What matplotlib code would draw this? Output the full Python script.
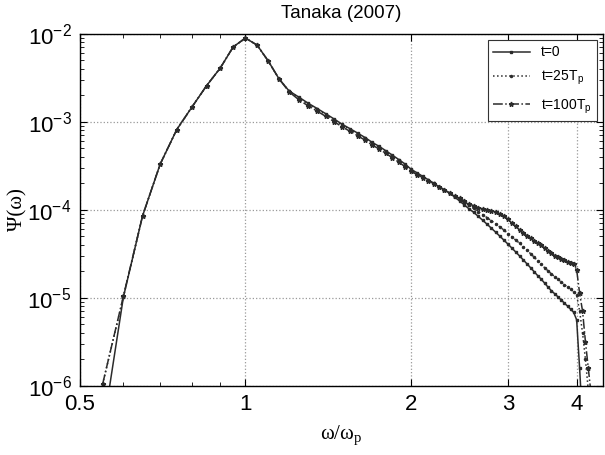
import numpy as np
import matplotlib
matplotlib.use('Agg')
import matplotlib.pyplot as plt
from matplotlib.ticker import FixedLocator, NullFormatter, FuncFormatter, LogLocator

plt.rcParams['font.family'] = ['Liberation Sans', 'DejaVu Sans']
plt.rcParams['mathtext.fontset'] = 'custom'
plt.rcParams['mathtext.rm'] = 'Liberation Sans'
plt.rcParams['axes.unicode_minus'] = False

# frequency grid (omega / omega_p)
omega = [0.55, 0.60, 0.65, 0.70, 0.75, 0.80, 0.85, 0.90, 0.95, 1.00,
         1.05, 1.10, 1.15, 1.20, 1.25, 1.30, 1.35, 1.40, 1.45, 1.50,
         1.55, 1.60, 1.65, 1.70, 1.75, 1.80, 1.85, 1.90, 1.95, 2.00,
         2.05, 2.10, 2.15, 2.20, 2.25, 2.30, 2.35, 2.40, 2.45, 2.50,
         2.55, 2.60, 2.65, 2.70, 2.75, 2.80, 2.85, 2.90, 2.95, 3.00,
         3.05, 3.10, 3.15, 3.20, 3.25, 3.30, 3.35, 3.40, 3.45, 3.50,
         3.55, 3.60, 3.65, 3.70, 3.75, 3.80, 3.85, 3.90, 3.95, 4.00,
         4.05, 4.10, 4.15, 4.20, 4.25]

# log10 of Psi(omega)
log_psi_t0 = [-6.52, -4.99, -4.07, -3.48, -3.09, -2.83, -2.59, -2.39, -2.15, -2.05,
              -2.13, -2.31, -2.51, -2.65, -2.72, -2.79, -2.85, -2.91, -2.97, -3.03,
              -3.08, -3.13, -3.18, -3.235, -3.28, -3.33, -3.38, -3.43, -3.48, -3.54,
              -3.58, -3.62, -3.66, -3.70, -3.74, -3.775, -3.81, -3.855, -3.90, -3.945,
              -3.99, -4.03, -4.075, -4.12, -4.165, -4.21, -4.255, -4.30, -4.345, -4.39,
              -4.435, -4.48, -4.525, -4.57, -4.615, -4.66, -4.705, -4.75, -4.79, -4.835,
              -4.88, -4.92, -4.955, -4.99, -5.025, -5.06, -5.095, -5.13, -5.165, -5.25,
              -5.8, -6.4]

log_psi_t25 = [-5.98, -4.99, -4.07, -3.48, -3.09, -2.83, -2.59, -2.39, -2.15, -2.05,
               -2.13, -2.31, -2.51, -2.65, -2.73, -2.80, -2.86, -2.92, -2.98, -3.04,
               -3.09, -3.14, -3.19, -3.245, -3.29, -3.34, -3.39, -3.44, -3.49, -3.55,
               -3.59, -3.625, -3.665, -3.70, -3.74, -3.775, -3.81, -3.845, -3.88, -3.915,
               -3.95, -3.985, -4.02, -4.055, -4.09, -4.125, -4.16, -4.195, -4.23, -4.27,
               -4.305, -4.345, -4.38, -4.42, -4.46, -4.50, -4.54, -4.58, -4.62, -4.66,
               -4.695, -4.73, -4.76, -4.79, -4.82, -4.85, -4.88, -4.905, -4.93, -4.97,
               -5.15, -5.4, -5.7, -6.05]

log_psi_t100 = [-5.98, -4.98, -4.07, -3.48, -3.09, -2.83, -2.59, -2.39, -2.15, -2.05,
                -2.13, -2.31, -2.51, -2.66, -2.75, -2.82, -2.88, -2.94, -3.00, -3.06,
                -3.11, -3.16, -3.21, -3.265, -3.31, -3.36, -3.41, -3.46, -3.51, -3.565,
                -3.60, -3.635, -3.67, -3.705, -3.74, -3.775, -3.81, -3.84, -3.87, -3.90,
                -3.93, -3.955, -3.975, -3.99, -4.00, -4.01, -4.025, -4.045, -4.07, -4.11,
                -4.15, -4.19, -4.23, -4.265, -4.295, -4.325, -4.35, -4.375, -4.405, -4.435,
                -4.465, -4.495, -4.52, -4.54, -4.56, -4.575, -4.59, -4.605, -4.62, -4.68,
                -4.95, -5.15, -5.5, -5.8, -6.1]

labels = ['t=0', r't=25T$_\mathregular{p}$', r't=100T$_\mathregular{p}$']

fig = plt.figure(figsize=(6.05, 4.55), dpi=100)
ax = fig.add_axes([0.132, 0.152, 0.865, 0.774])

series = [log_psi_t0, log_psi_t25, log_psi_t100]
styles = [dict(ls='-', marker='s', ms=2.0),
          dict(ls=':', marker='.', ms=3.0),
          dict(ls='-.', marker='*', ms=3.5)]
for lp, st, lab in zip(series, styles, labels):
    x = np.array(omega[:len(lp)])
    y = 10.0 ** np.array(lp)
    ax.plot(x, y, color='#2b2b2b', lw=1.1, label=lab, **st)

ax.set_xscale('log')
ax.set_yscale('log')
ax.set_xlim(0.5, 4.47)
ax.set_ylim(1e-6, 1e-2)

ax.xaxis.set_major_locator(FixedLocator([0.5, 1, 2, 3, 4]))
ax.xaxis.set_major_formatter(FuncFormatter(lambda v, p: '%g' % v))
ax.xaxis.set_minor_locator(FixedLocator([0.6, 0.7, 0.8, 0.9]))
ax.xaxis.set_minor_formatter(NullFormatter())
ax.yaxis.set_major_locator(LogLocator(base=10, numticks=10))
ax.yaxis.set_major_formatter(FuncFormatter(
    lambda v, p: r'$\mathregular{10^{%d}}$' % int(round(np.log10(v)))))
ax.yaxis.set_minor_locator(LogLocator(base=10, subs=np.arange(2, 10), numticks=20))
ax.yaxis.set_minor_formatter(NullFormatter())

ax.tick_params(which='both', direction='in', top=True, right=True, labelsize=16, pad=6)
ax.tick_params(which='major', length=5, width=0.8)
ax.tick_params(which='minor', length=3, width=0.6)
ax.grid(True, which='major', ls=':', color='#999999', lw=0.9)
for s in ax.spines.values():
    s.set_linewidth(1.0)

ax.set_title('Tanaka (2007)', fontsize=13.5, pad=11)
ax.set_xlabel(r'ω/ω$_\mathregular{p}$', fontsize=15, labelpad=6,
              family=['Liberation Serif', 'DejaVu Serif'])
ax.set_ylabel('Ψ(ω)', fontsize=15, labelpad=0,
              family=['Liberation Serif', 'DejaVu Serif'])

leg = ax.legend(loc='upper right', fontsize=10, handlelength=2.6, fancybox=False,
                edgecolor='#333333', framealpha=1, borderaxespad=0.45,
                labelspacing=0.7)
leg.get_frame().set_linewidth(0.8)

fig.savefig('out.png', dpi=100)
